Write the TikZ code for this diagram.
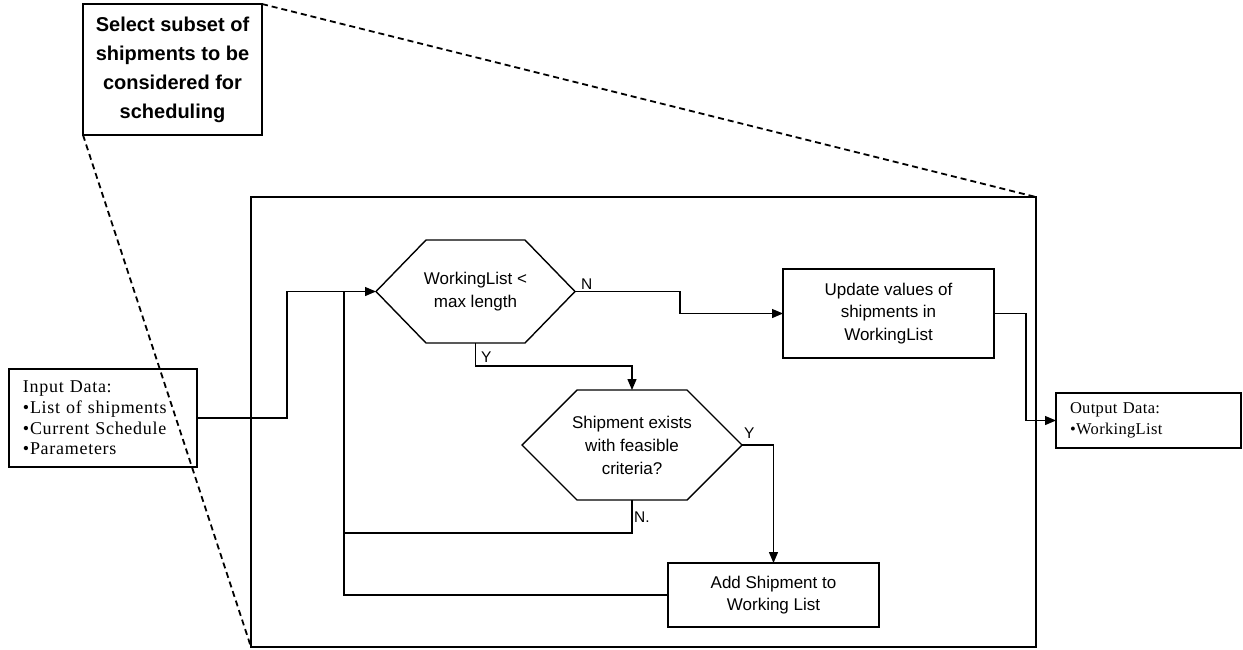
\documentclass[tikz,border=0pt]{standalone}
\usepackage{fontspec}
\setmainfont{Liberation Serif}
\setsansfont{Liberation Sans}
\usetikzlibrary{calc,arrows.meta}

\begin{document}
\begin{tikzpicture}[x=1pt,y=-1pt,
  procbox/.style={draw,line width=1.4pt,inner sep=0pt,outer sep=0pt,align=center,
    font=\sffamily\fontsize{17}{22.5}\selectfont},
  hexbody/.style={inner sep=0pt,outer sep=0pt,align=center,
    font=\sffamily\fontsize{17}{23}\selectfont},
  hexline/.style={line width=1.4pt,line join=miter},
  databox/.style={draw,line width=1.4pt,inner ysep=0pt,inner xsep=14pt,outer sep=0pt,align=left},
  flow/.style={line width=1.3pt},
  arr/.style={flow,-{Triangle[length=11pt,width=9pt]}},
  lbl/.style={font=\sffamily\fontsize{15.5}{18}\selectfont,inner sep=0pt,anchor=base west},
  zoomline/.style={line width=1.8pt,dash pattern=on 6pt off 4pt}]

\useasboundingbox (0,0) rectangle (1243,649);

% heading box of the expanded step
\node[draw,line width=2.5pt,inner sep=0pt,outer sep=0pt,minimum width=179pt,minimum height=131pt,
  align=center,font=\sffamily\bfseries\fontsize{20}{29}\selectfont]
  (sel) at (172.5,69.5) {Select subset of\\shipments to be\\considered for\\scheduling};

% frame holding the detailed procedure
\node[draw,line width=2pt,inner sep=0pt,outer sep=0pt,minimum width=785pt,minimum height=450pt]
  (frame) at (643.5,422) {};

% zoom lines from the heading box to the frame
\draw[zoomline] (sel.north east) -- (frame.north east);
\draw[zoomline] (sel.south west) -- (frame.south west);

% input and output data
\node[databox,text width=160pt,minimum height=98pt,
  font=\fontsize{18}{20.7}\selectfont\addfontfeatures{LetterSpace=4}] (inp) at (103,418)
  {Input Data:\\•List of shipments\\•Current Schedule\\•Parameters};
\node[databox,text width=157pt,minimum height=55pt,
  font=\fontsize{16.5}{20.5}\selectfont\addfontfeatures{LetterSpace=2}] (out) at (1148.5,420.5)
  {Output Data:\\•WorkingList};

% decision 1
\node[hexbody,minimum width=199pt,minimum height=103pt] (h1) at (475.5,291.5)
  {WorkingList <\\max length};
\draw[hexline] (h1.west) -- ($(h1.north west)+(50,0)$) -- ($(h1.north east)+(-50,0)$)
  -- (h1.east) -- ($(h1.south east)+(-50,0)$) -- ($(h1.south west)+(50,0)$) -- cycle;

% decision 2
\node[hexbody,minimum width=220pt,minimum height=110pt] (h2) at (632,445)
  {Shipment exists\\with feasible\\criteria?};
\draw[hexline] (h2.west) -- ($(h2.north west)+(55,0)$) -- ($(h2.north east)+(-55,0)$)
  -- (h2.east) -- ($(h2.south east)+(-55,0)$) -- ($(h2.south west)+(55,0)$) -- cycle;

% process steps
\node[procbox,minimum width=211pt,minimum height=89pt] (upd) at (888.5,313.5)
  {Update values of\\shipments in\\WorkingList};
\node[procbox,minimum width=211pt,minimum height=64pt] (add) at (773.5,595)
  {Add Shipment to\\Working List};

% junction where the loops rejoin the entry line
\coordinate (join) at (344,291.5);

% connectors
\draw[arr] (inp.east) -- ++(90,0) |- (h1.west);
\draw[arr] (h1.east) -- ++(105,0) |- (upd.west);
\draw[arr] (upd.east) -- ++(32,0) |- (out.west);
\draw[arr] (h1.south) -- ++(0,23) -| (h2.north);
\draw[arr] (h2.east) -| (add.north);
\draw[flow] (h2.south) -- ++(0,33) -| (join);
\draw[flow] (add.west) -| (join);

% branch labels
\node[lbl] (n1) at (581,289) {N};
\node[lbl] (y1) at (481,362) {Y};
\node[lbl] (y2) at (744,438) {Y};
\node[lbl] (n2) at (634,522) {N.};
\end{tikzpicture}
\end{document}
